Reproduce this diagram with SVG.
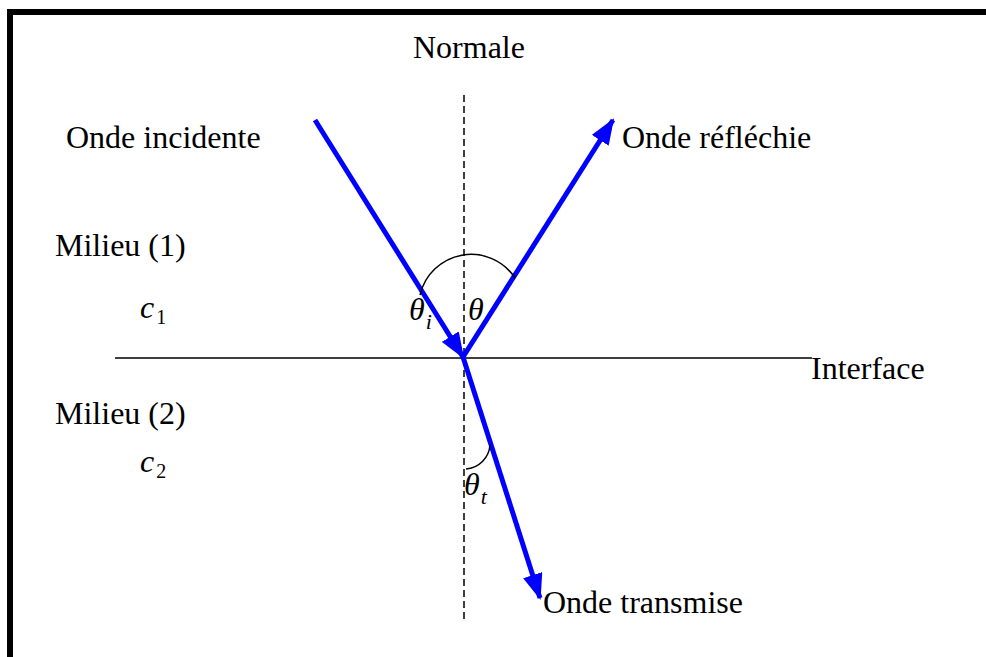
<svg xmlns="http://www.w3.org/2000/svg" width="986" height="657" viewBox="0 0 986 657">
<style>
text{font-family:"Liberation Serif","Times New Roman",serif;font-size:32px;fill:#000}
.it{font-style:italic}
.ray{stroke:#0000ff;stroke-width:5;fill:none}
.thin{stroke:#000;stroke-width:1.5;fill:none}
</style>
<defs>
<marker id="ah" markerUnits="userSpaceOnUse" markerWidth="26" markerHeight="20" refX="24" refY="10" orient="auto">
<path d="M0,0 L26,10 L0,20 z" fill="#0000ff"/>
</marker>
</defs>
<rect x="10" y="12" width="1000" height="700" fill="none" stroke="#000" stroke-width="6"/>
<g id="connectors">
<line id="normal" x1="464" y1="95" x2="464" y2="622" stroke="#000" stroke-width="1.5" stroke-dasharray="7,4"/>
<line id="interface-line" x1="115" y1="358" x2="812" y2="358" stroke="#000" stroke-width="1.5"/>
<line id="incident" class="ray" x1="315" y1="120" x2="463" y2="357" marker-end="url(#ah)"/>
<line id="reflected" class="ray" x1="463" y1="357" x2="613" y2="120" marker-end="url(#ah)"/>
<line id="transmitted" class="ray" x1="463" y1="357" x2="540" y2="598" marker-end="url(#ah)"/>
<path id="arc-i" class="thin" d="M420,295 A52.5,52.5 0 0 1 515,278"/>
<path id="arc-t" class="thin" d="M490,445 A26,26 0 0 1 466,469"/>
</g>
<g id="labels">
<text x="413" y="58">Normale</text>
<text x="66" y="148">Onde incidente</text>
<text x="622" y="148">Onde réfléchie</text>
<text x="55" y="256">Milieu (1)</text>
<text x="55" y="424">Milieu (2)</text>
<text x="811" y="379">Interface</text>
<text x="543" y="613">Onde transmise</text>
<text x="140" y="318" class="it" font-size="34">c<tspan font-style="normal" font-size="20" dx="2" dy="6">1</tspan></text>
<text x="140" y="472" class="it" font-size="34">c<tspan font-style="normal" font-size="20" dx="2" dy="6">2</tspan></text>
<text x="409" y="320" class="it" font-size="47">θ<tspan font-size="22" dx="1" dy="9">i</tspan></text>
<text x="468" y="320" class="it" font-size="47">θ</text>
<text x="464" y="495" class="it" font-size="44">θ<tspan font-size="22" dx="1" dy="9">t</tspan></text>
</g>
</svg>
